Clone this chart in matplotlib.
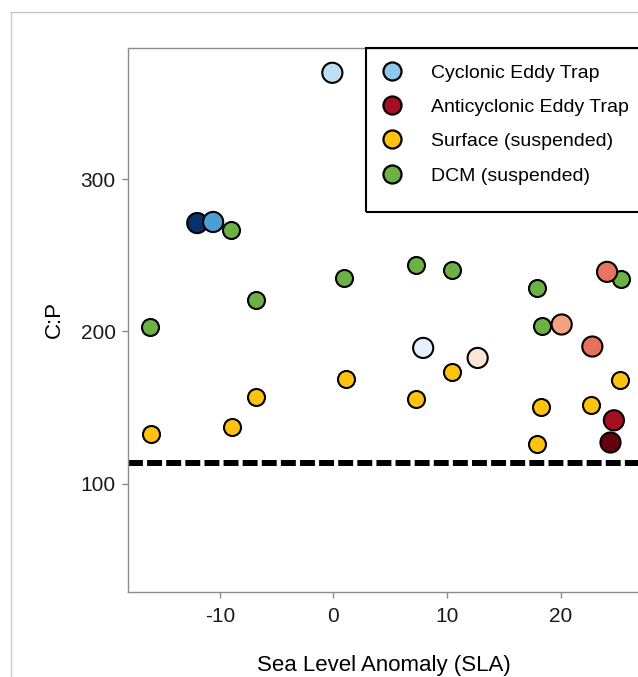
import matplotlib
matplotlib.use("Agg")
import matplotlib.pyplot as plt
from matplotlib.patches import Rectangle
from matplotlib.lines import Line2D

plt.rcParams["font.family"] = ["Liberation Sans", "DejaVu Sans"]
plt.rcParams["axes.unicode_minus"] = False

# eddy sediment traps, each with its own shade
cyc_sla = [-12.0, -10.6, -0.1, 7.9]
cyc_cp = [271.3, 272.0, 370.1, 189.2]
cyc_colors = ["#08306b", "#4b9fd5", "#bfe0f4", "#e4f1fa"]

anti_sla = [12.7, 20.1, 22.8, 24.1, 24.7, 24.4]
anti_cp = [182.6, 204.6, 190.1, 239.2, 141.6, 127.0]
anti_colors = ["#fce4d8", "#f4a283", "#e6705a", "#e8735f", "#a50f22", "#67000d"]

# suspended particles
surf_sla = [-16.1, -8.9, -6.8, 1.1, 7.3, 10.4, 18.3, 17.9, 22.7, 25.2]
surf_cp = [132.6, 137.0, 156.6, 168.8, 155.9, 173.2, 150.4, 125.9, 151.7, 168.4]

dcm_sla = [-16.2, -9.0, -6.8, 0.9, 7.3, 10.4, 17.9, 18.4, 25.3]
dcm_cp = [203.0, 266.4, 220.4, 235.3, 243.6, 240.3, 228.3, 203.9, 234.6]

redfield = 113.2

legend_names = ["Cyclonic Eddy Trap", "Anticyclonic Eddy Trap",
                "Surface (suspended)", "DCM (suspended)"]
legend_colors = ["#8ec8ea", "#a50f22", "#ffc20e", "#6db044"]

W, H = 638, 677
fig = plt.figure(figsize=(W / 100, H / 100), dpi=100)

# light grey outer frame
fig.add_artist(Line2D([11 / W, 11 / W], [0, 1 - 12 / H], color="#c8c8c8", lw=1))
fig.add_artist(Line2D([11 / W, 1], [1 - 12 / H, 1 - 12 / H], color="#c8c8c8", lw=1))

left, right, top, bottom = 128, 640, 48, 592
ax = fig.add_axes([left / W, 1 - bottom / H, (right - left) / W, (bottom - top) / H])

ax.scatter(cyc_sla, cyc_cp, s=210, c=cyc_colors, edgecolors="black", linewidths=1.5, zorder=3)
ax.scatter(surf_sla, surf_cp, s=150, c="#ffc20e", edgecolors="black", linewidths=1.5, zorder=3)
ax.scatter(dcm_sla, dcm_cp, s=150, c="#6db044", edgecolors="black", linewidths=1.5, zorder=3)
ax.scatter(anti_sla, anti_cp, s=210, c=anti_colors, edgecolors="black", linewidths=1.5, zorder=3)

ax.axhline(redfield, color="black", lw=4.3, dashes=(2.5, 0.7), zorder=2)

ax.set_xlim(-18.1, 27.0)
ax.set_ylim(28.7, 386.4)
ax.set_xticks([-10, 0, 10, 20])
ax.set_yticks([100, 200, 300])

for side in ["left", "bottom", "top"]:
    ax.spines[side].set_color("#8c8c8c")
    ax.spines[side].set_linewidth(1)
ax.spines["right"].set_visible(False)
ax.tick_params(length=4, width=1, color="#8c8c8c", labelsize=15, labelcolor="#1a1a1a")
ax.tick_params(axis="x", pad=7)
ax.tick_params(axis="y", pad=5)

ax.set_xlabel("Sea Level Anomaly (SLA)", fontsize=16, labelpad=21)
ax.set_ylabel("C:P", fontsize=16, labelpad=11)

# legend box sits against the top of the panel
span_x, span_y = right - left, bottom - top
ax.add_patch(Rectangle(((366 - left) / span_x, (bottom - 212) / span_y),
                       0.7, (212 - top) / span_y, transform=ax.transAxes, fill=False,
                       edgecolor="black", lw=1.5, clip_on=False, zorder=5))
handles = [Line2D([], [], ls="", marker="o", markersize=13, markerfacecolor=c,
                  markeredgecolor="black", markeredgewidth=1.6) for c in legend_colors]
ax.legend(handles, legend_names, loc="upper left",
          bbox_to_anchor=((382 - left) / span_x, (bottom - 64) / span_y),
          frameon=False, fontsize=14, handletextpad=1.5, labelspacing=0.86,
          borderaxespad=0, borderpad=0, handlelength=1.0)

fig.savefig("out.png", dpi=100)
